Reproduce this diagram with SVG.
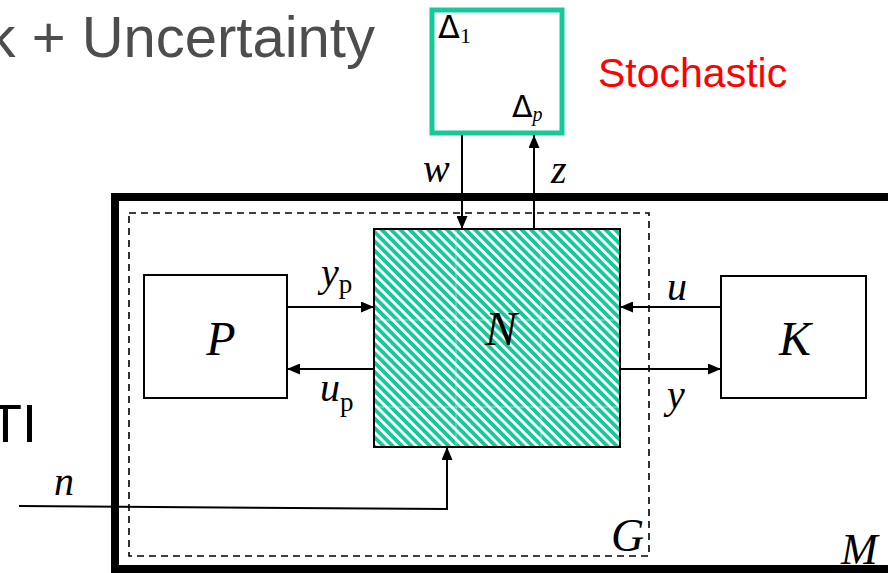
<svg xmlns="http://www.w3.org/2000/svg" width="888" height="573" viewBox="0 0 888 573">
<style>
.sans{font-family:"Liberation Sans",Arial,sans-serif}
.m{font-family:"Liberation Serif","Times New Roman",serif;font-style:italic;fill:#000}
.r{font-family:"Liberation Serif","Times New Roman",serif;font-style:normal;fill:#000}
.d{font-family:"DejaVu Sans",sans-serif;font-style:normal;fill:#000}
.box{fill:#fff;stroke:#000;stroke-width:2}
.wire{fill:none;stroke:#000;stroke-width:2}
</style>
<defs>
<pattern id="hatch" patternUnits="userSpaceOnUse" width="6.6" height="10" patternTransform="rotate(-45)">
<rect width="6.6" height="10" fill="#fff"/>
<rect width="3.8" height="10" fill="#14c99a"/>
</pattern>
<marker id="ah" viewBox="0 0 13 11" refX="13" refY="5.5" markerWidth="13" markerHeight="11" markerUnits="userSpaceOnUse" orient="auto">
<path d="M0,0 L13,5.5 L0,11 Z" fill="#000"/>
</marker>
</defs>
<rect width="888" height="573" fill="#fff"/>

<text class="sans" x="375" y="57" font-size="58" fill="#4d4d4d" text-anchor="end">k + Uncertainty</text>
<text class="sans" x="-11" y="442" font-size="54" fill="#000">TI</text>
<text class="sans" x="598" y="87" font-size="41" fill="#ff0000">Stochastic</text>

<g id="M">
<path d="M900,197 H115 V569 H900" fill="none" stroke="#000" stroke-width="8"/>
<text class="m" x="841" y="564" font-size="44">M</text>
</g>

<g id="G">
<rect x="129" y="213" width="520" height="343" fill="none" stroke="#000" stroke-width="1.6" stroke-dasharray="7,5"/>
<text class="m" x="611" y="551" font-size="46">G</text>
</g>

<g id="Delta">
<rect x="432" y="10" width="130" height="123" fill="#fff" stroke="#14c99a" stroke-width="5"/>
<text class="d" x="438" y="38" font-size="32">Δ<tspan class="r" font-size="22" dy="5">1</tspan></text>
<text class="d" x="512" y="117" font-size="30">Δ<tspan class="m" font-size="20" dy="4">p</tspan></text>
</g>

<g id="N">
<rect x="374" y="229" width="246" height="218" fill="url(#hatch)" stroke="#000" stroke-width="2"/>
<g stroke="#fff" stroke-width="1" opacity="0.45">
<line x1="456" y1="230" x2="456" y2="446"/>
<line x1="541" y1="230" x2="541" y2="446"/>
<line x1="375" y1="320" x2="619" y2="320"/>
<line x1="375" y1="407" x2="619" y2="407"/>
</g>
<text class="m" x="501" y="345" font-size="48" text-anchor="middle">N</text>
</g>

<g id="P">
<rect class="box" x="144" y="275" width="143" height="123"/>
<text class="m" x="221" y="355" font-size="48" text-anchor="middle">P</text>
</g>

<g id="K">
<rect class="box" x="721" y="276" width="145" height="122"/>
<text class="m" x="795" y="355" font-size="48" text-anchor="middle">K</text>
</g>

<g id="connectors">
<line class="wire" x1="287" y1="307" x2="374" y2="307" marker-end="url(#ah)"/>
<line class="wire" x1="374" y1="369" x2="287" y2="369" marker-end="url(#ah)"/>
<line class="wire" x1="721" y1="307" x2="620" y2="307" marker-end="url(#ah)"/>
<line class="wire" x1="620" y1="369" x2="721" y2="369" marker-end="url(#ah)"/>
<line class="wire" x1="462" y1="135" x2="462" y2="229" marker-end="url(#ah)"/>
<line class="wire" x1="534" y1="229" x2="534" y2="135" marker-end="url(#ah)"/>
<polyline class="wire" points="19,506 447,509 447,447" marker-end="url(#ah)"/>

<text class="m" x="321" y="286" font-size="40">y<tspan class="r" font-size="27" dy="7">p</tspan></text>
<text class="m" x="320" y="401" font-size="40">u<tspan class="r" font-size="27" dy="10">p</tspan></text>
<text class="m" x="667" y="300" font-size="40">u</text>
<text class="m" x="667" y="408" font-size="40">y</text>
<text class="m" x="423" y="182" font-size="40">w</text>
<text class="m" x="551" y="183" font-size="40">z</text>
<text class="m" x="54" y="495" font-size="40">n</text>
</g>
</svg>
